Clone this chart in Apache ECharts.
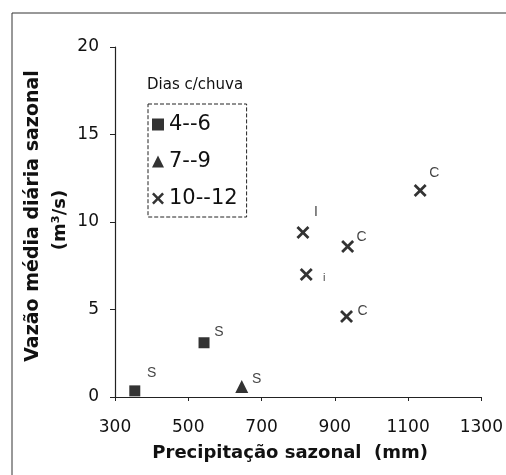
<!DOCTYPE html>
<html>
<head>
<meta charset="utf-8">
<script src="https://cdn.jsdelivr.net/npm/echarts@6/dist/echarts.min.js"></script>
<style>
html, body { margin: 0; padding: 0; background: #fff; }
#main { width: 506px; height: 475px; }
</style>
</head>
<body>
<div id="main"></div>
<script>
// dados
var xTicks = [300, 500, 700, 900, 1100, 1300];
var yTicks = [0, 5, 10, 15, 20];

var grupo46 = [[354, 0.35], [543, 3.1]];
var grupo79 = [[646, 0.6]];
var grupo1012 = [[813, 9.4], [822, 7.0], [935, 8.6], [932, 4.6], [1133, 11.8]];

var rot46 = ['S', 'S'];
var rot79 = ['S'];
var rot1012 = ['I', 'i', 'C', 'C', 'C'];

var nomes = ['4--6', '7--9', '10--12'];

// deslocamento dos rótulos (px), na mesma ordem dos pontos
var desl46 = [[17, -18], [15, -11]];
var desl79 = [[15, -7]];
var desl1012 = [[13, -20], [18, 3], [14, -9], [16, -5], [14, -17]];

var cruz = 'path://M0,1.5L1.5,0L5,3.5L8.5,0L10,1.5L6.5,5L10,8.5L8.5,10L5,6.5L1.5,10L0,8.5L3.5,5Z';
var fonte = '"DejaVu Sans"';

function montaDados(pts, rots, desl) {
    return pts.map(function(p, i) {
        return {
            value: p,
            label: {
                show: true,
                formatter: rots[i],
                position: 'inside',
                offset: desl[i],
                color: '#111',
                fontSize: rots[i] === 'i' ? 11 : 14,
                fontFamily: 'Liberation Sans'
            }
        };
    });
}

var myChart = echarts.init(document.getElementById('main'));
var option = {
    animation: false,
    backgroundColor: '#fff',
    textStyle: { fontFamily: fonte, color: '#111' },
    title: {
        text: 'Dias c/chuva',
        left: 142,
        top: 73,
        textStyle: { fontSize: 15, fontWeight: 'normal', color: '#111', fontFamily: fonte }
    },
    legend: {
        data: nomes,
        orient: 'vertical',
        left: 148,
        top: 104,
        padding: [10, 9, 8, 4],
        itemGap: 16,
        itemWidth: 12,
        itemHeight: 12,
        borderColor: '#222',
        borderWidth: 1,
        borderType: 'dashed',
        textStyle: { fontSize: 21, color: '#111', fontFamily: fonte }
    },
    grid: { left: 115, top: 47, right: 21, bottom: 78 },
    xAxis: {
        type: 'value',
        min: 300,
        max: 1300,
        interval: 200,
        name: 'Precipitação sazonal  (mm)',
        nameLocation: 'middle',
        nameGap: 47,
        nameTextStyle: { fontSize: 18, fontWeight: 'bold', color: '#111', fontFamily: fonte, padding: [0, 16, 0, 0] },
        axisLine: { lineStyle: { color: '#222', width: 1.2 } },
        axisTick: { show: true, length: 4, lineStyle: { color: '#222' } },
        axisLabel: {
            fontSize: 17, color: '#111', margin: 22, fontFamily: fonte,
            showMaxLabel: true, showMinLabel: true,
            formatter: function(v) { return String(v); }
        },
        splitLine: { show: false }
    },
    yAxis: {
        type: 'value',
        min: 0,
        max: 20,
        interval: 5,
        axisLine: { show: true, lineStyle: { color: '#222', width: 1.2 } },
        axisTick: { show: true, length: 5, lineStyle: { color: '#222' } },
        axisLabel: { fontSize: 17, color: '#111', margin: 16, fontFamily: fonte },
        splitLine: { show: false }
    },
    graphic: [{
        type: 'rect',
        shape: { x: 12, y: 13, width: 520, height: 500 },
        style: { fill: 'none', stroke: '#333', lineWidth: 1 },
        silent: true
    }, {
        type: 'text',
        x: 33,
        y: 216,
        rotation: Math.PI / 2,
        style: {
            text: 'Vazão média diária sazonal',
            font: 'bold 19px "DejaVu Sans"',
            fill: '#111',
            align: 'center',
            verticalAlign: 'middle'
        }
    }, {
        type: 'text',
        x: 60,
        y: 220,
        rotation: Math.PI / 2,
        style: {
            text: '(m³/s)',
            font: 'bold 18px "DejaVu Sans"',
            fill: '#111',
            align: 'center',
            verticalAlign: 'middle'
        }
    }],
    series: [{
        name: nomes[0],
        type: 'scatter',
        symbol: 'rect',
        symbolSize: 11,
        itemStyle: { color: '#000' },
        data: montaDados(grupo46, rot46, desl46)
    }, {
        name: nomes[1],
        type: 'scatter',
        symbol: 'triangle',
        symbolSize: 13,
        itemStyle: { color: '#000' },
        data: montaDados(grupo79, rot79, desl79)
    }, {
        name: nomes[2],
        type: 'scatter',
        symbol: cruz,
        symbolSize: 13,
        itemStyle: { color: '#000' },
        data: montaDados(grupo1012, rot1012, desl1012)
    }]
};
myChart.setOption(option);
</script>
</body>
</html>
